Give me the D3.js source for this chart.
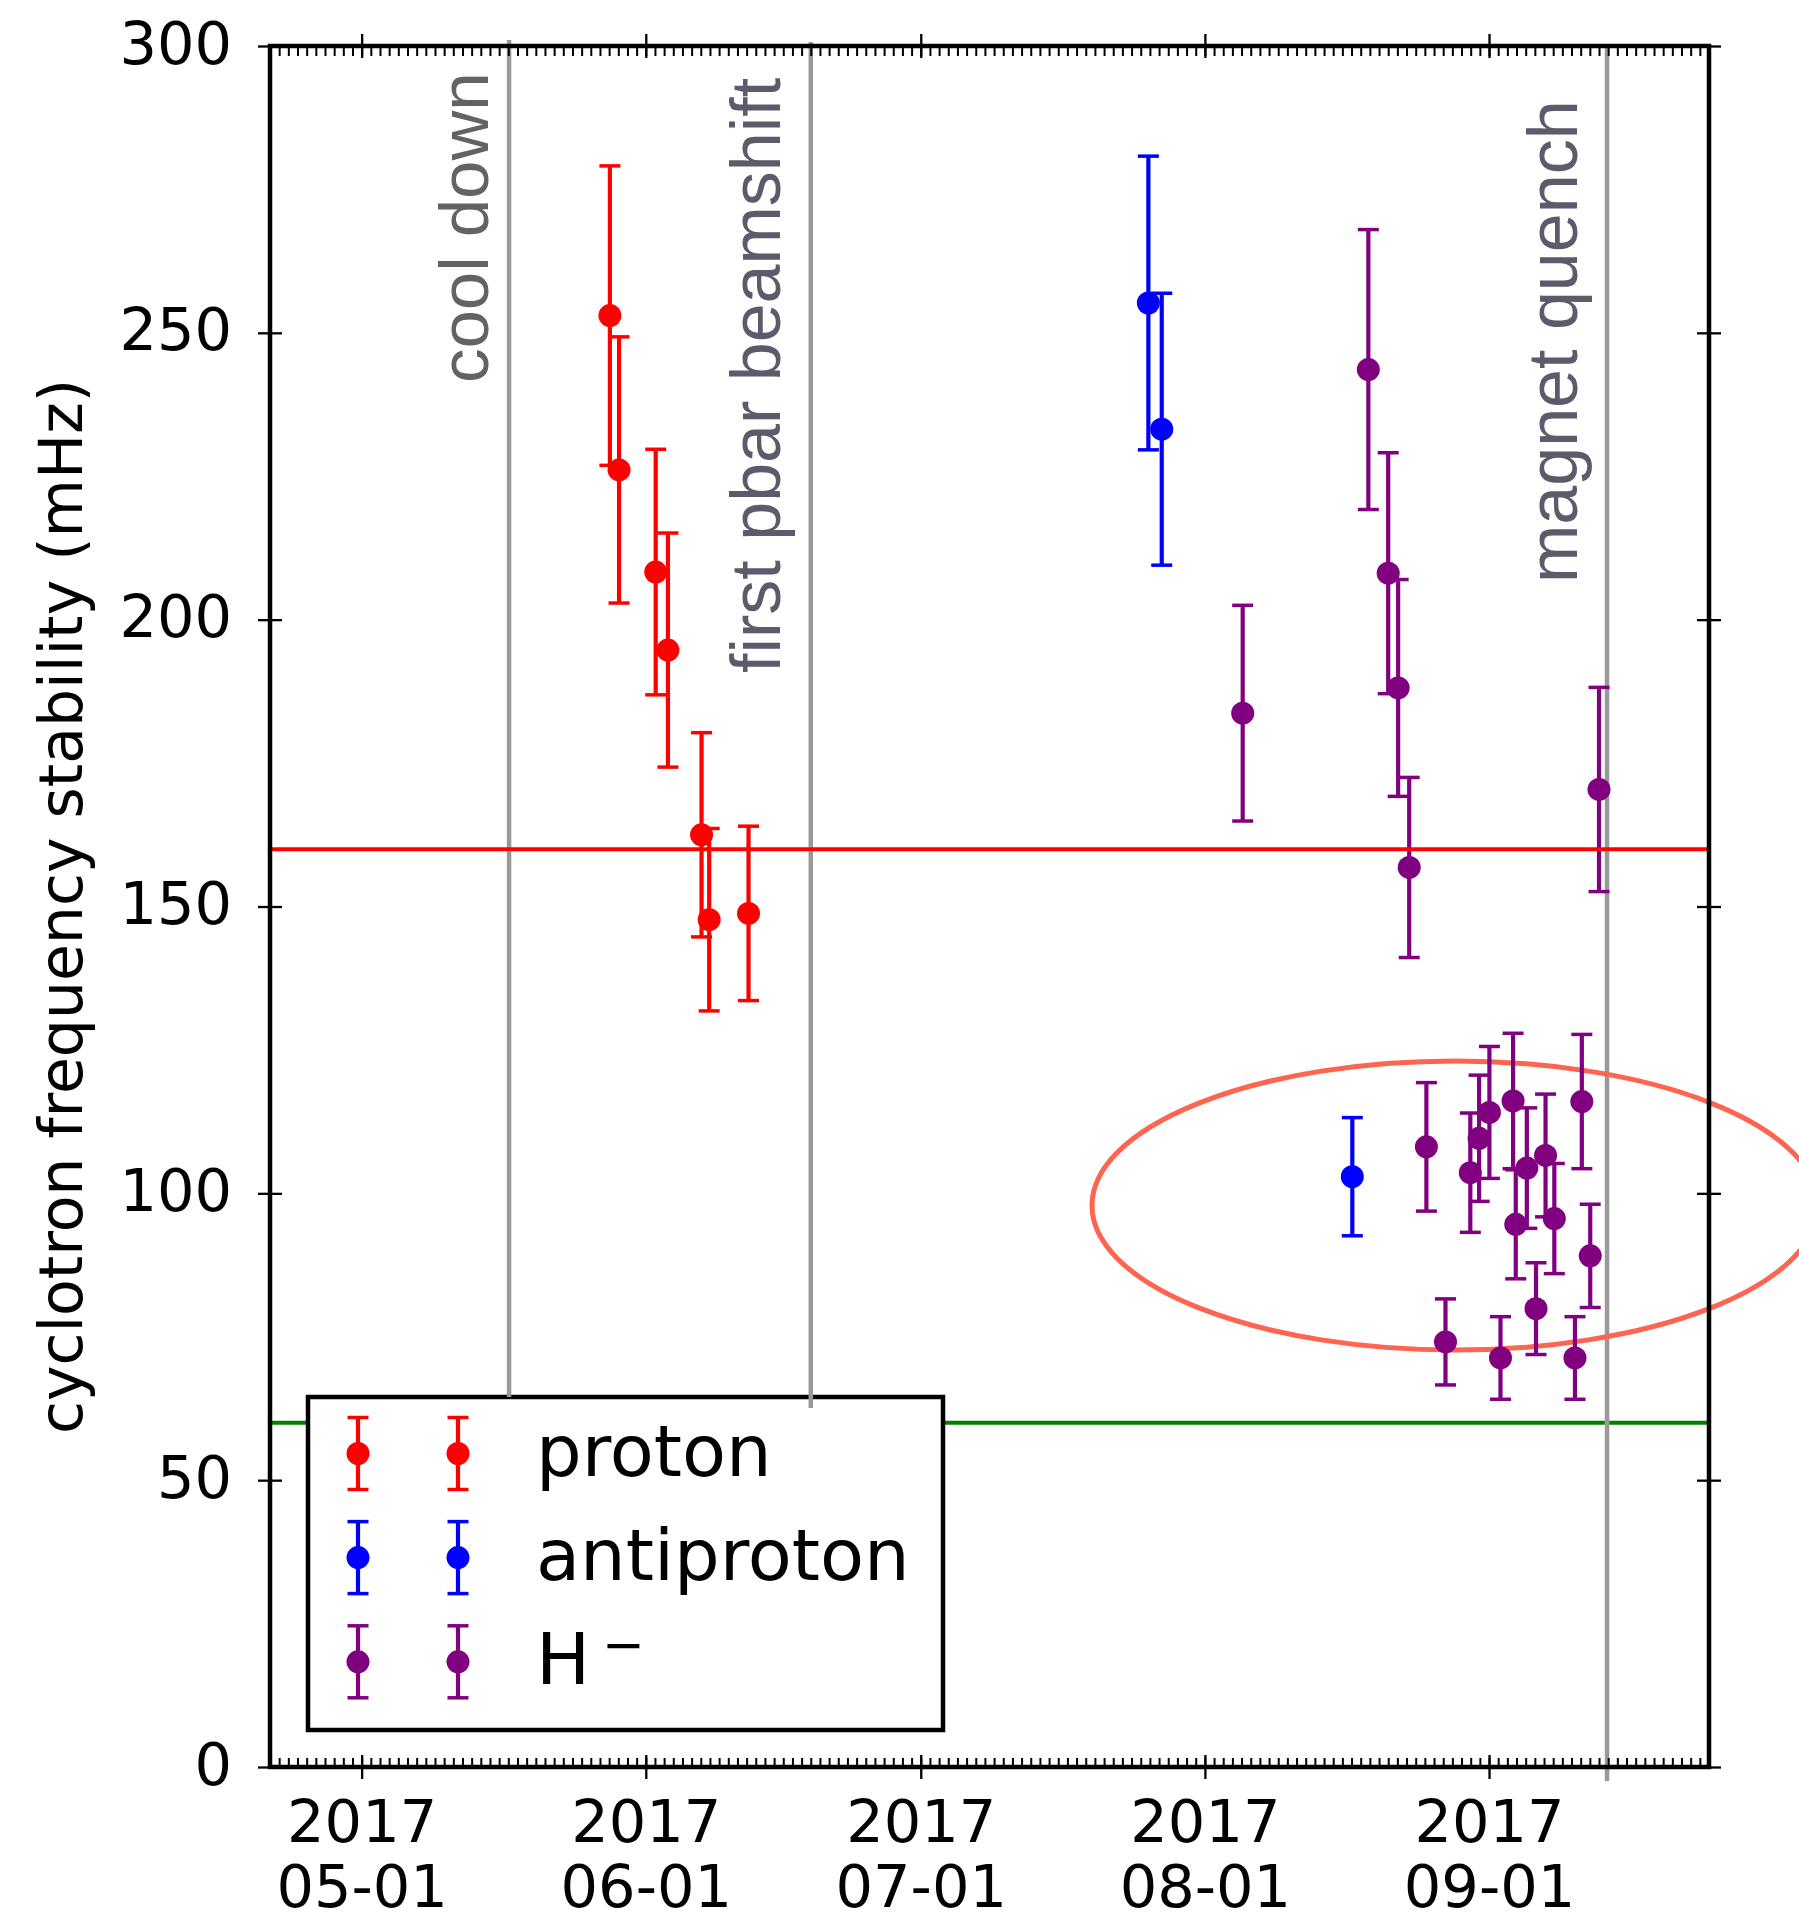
<!DOCTYPE html>
<html>
<head>
<meta charset="utf-8">
<script src="https://cdn.jsdelivr.net/npm/d3@7"></script>
<style>
  body { margin: 0; background: #ffffff; }
  svg { display: block; }
</style>
</head>
<body>
<svg id="chart" width="1799" height="1921"></svg>
<script>
// ---- measurement data (value ± error, in mHz) ----
const protonDates = ["2017-05-28T02:00", "2017-05-29T02:00", "2017-06-02T02:00", "2017-06-03T10:00",
                     "2017-06-07T02:00", "2017-06-07T22:00", "2017-06-12T05:00"];
const protonValues = [253.0, 226.1, 208.3, 194.7, 162.5, 147.7, 148.8];
const protonErrors = [26.1, 23.2, 21.4, 20.4, 17.8, 15.9, 15.2];

const antiprotonDates = ["2017-07-25T20:00", "2017-07-27T07:00", "2017-08-17T02:00"];
const antiprotonValues = [255.2, 233.2, 102.9];
const antiprotonErrors = [25.6, 23.7, 10.3];

const hminusDates = ["2017-08-05T03:00", "2017-08-18T20:00", "2017-08-21T00:00", "2017-08-22T02:00",
                     "2017-08-23T07:00", "2017-08-25T04:00", "2017-08-27T06:00", "2017-08-29T23:00",
                     "2017-08-30T22:00", "2017-09-01T01:00", "2017-09-02T06:00", "2017-09-03T15:00",
                     "2017-09-03T22:00", "2017-09-05T03:00", "2017-09-06T03:00", "2017-09-07T04:00",
                     "2017-09-08T03:00", "2017-09-10T09:00", "2017-09-11T03:00", "2017-09-12T01:00",
                     "2017-09-13T00:00"];
const hminusValues = [183.7, 243.6, 208.1, 188.1, 156.8, 108.1, 74.1, 103.6, 109.6, 114.1, 71.3,
                      116.1, 94.6, 104.4, 79.9, 106.6, 95.6, 71.3, 116.0, 89.1, 170.4];
const hminusErrors = [18.8, 24.4, 21.0, 18.9, 15.7, 11.2, 7.5, 10.4, 11.0, 11.5, 7.2,
                      11.8, 9.5, 10.5, 8.0, 10.7, 9.6, 7.2, 11.7, 9.0, 17.8];

// reference levels
const upperLevel = 160;
const lowerLevel = 60;

// events marked along the time axis
const eventNames = ["cool down", "first pbar beamshift", "magnet quench"];
const eventDates = ["2017-05-17T02:00", "2017-06-19T00:00", "2017-09-13T21:00"];

// axis settings
const dateDomain = ["2017-04-21T00:00", "2017-09-25T00:00"];
const yTicks = [0, 50, 100, 150, 200, 250, 300];
const yLabel = "cyclotron frequency stability (mHz)";

// ---- layout ----
const plot = { left: 270, right: 1709, top: 46, bottom: 1767 };
const fontMain = "'DejaVu Sans', sans-serif";
const fontNote = "'Liberation Sans', Arial, sans-serif";

const parse = d3.utcParse("%Y-%m-%dT%H:%M");
const x = d3.scaleUtc().domain(dateDomain.map(parse)).range([plot.left, plot.right]);
const y = d3.scaleLinear().domain([0, 300]).range([plot.bottom, plot.top]);

const svg = d3.select("#chart");
svg.append("rect").attr("width", 1799).attr("height", 1921).attr("fill", "#ffffff");

const series = [
  { name: "proton", color: "#ff0000", dates: protonDates, values: protonValues, errors: protonErrors },
  { name: "antiproton", color: "#0000ff", dates: antiprotonDates, values: antiprotonValues, errors: antiprotonErrors },
  { name: "H", color: "#800080", dates: hminusDates, values: hminusValues, errors: hminusErrors }
];

const barWidth = 4.2;
const capWidth = 3.5;
const capHalf = 10.5;
const markerR = 11.5;

// green reference level (sits underneath the legend)
svg.append("line")
  .attr("x1", plot.left).attr("x2", plot.right)
  .attr("y1", y(lowerLevel)).attr("y2", y(lowerLevel))
  .attr("stroke", "#008000").attr("stroke-width", 4);

// ---- legend ----
const legend = svg.append("g");
legend.append("rect")
  .attr("x", 308).attr("y", 1397).attr("width", 635).attr("height", 333)
  .attr("fill", "#ffffff").attr("stroke", "#000000").attr("stroke-width", 4.5);

const legendRows = [1453.5, 1557.6, 1661.8];
const legendMarkerX = [358, 458];
const legendHalf = 36;

function drawErrorGlyph(g, cx, cy, half, color) {
  g.append("line").attr("x1", cx).attr("x2", cx).attr("y1", cy - half).attr("y2", cy + half)
    .attr("stroke", color).attr("stroke-width", barWidth);
  [cy - half, cy + half].forEach(cy2 => {
    g.append("line").attr("x1", cx - capHalf).attr("x2", cx + capHalf).attr("y1", cy2).attr("y2", cy2)
      .attr("stroke", color).attr("stroke-width", capWidth);
  });
  g.append("circle").attr("cx", cx).attr("cy", cy).attr("r", markerR).attr("fill", color);
}

series.forEach((s, i) => {
  legendMarkerX.forEach(mx => drawErrorGlyph(legend, mx, legendRows[i], legendHalf, s.color));
  const t = legend.append("text")
    .attr("x", 536).attr("y", legendRows[i] + 22)
    .attr("font-family", fontMain).attr("font-size", 72).attr("fill", "#000000")
    .text(s.name);
  if (s.name === "H") {
    t.append("tspan").attr("font-size", 51).attr("dx", 12).attr("dy", -22).text("\u2212");
  }
});

// ---- event markers ----
const eventSpans = [[40, 1397], [42, 1408], [44, 1781]];
eventDates.forEach((d, i) => {
  const ex = x(parse(d));
  svg.append("line")
    .attr("x1", ex).attr("x2", ex).attr("y1", eventSpans[i][0]).attr("y2", eventSpans[i][1])
    .attr("stroke", "#999999").attr("stroke-width", 4.5);
});

// highlight around the late-August / September H- cluster
svg.append("ellipse")
  .attr("cx", 1455).attr("cy", 1205.5).attr("rx", 363).attr("ry", 144.5)
  .attr("fill", "none").attr("stroke", "#ff6450").attr("stroke-width", 5);

// ---- error bars ----
series.forEach(s => {
  const pts = s.dates.map((d, i) => ({ t: parse(d), v: s.values[i], e: s.errors[i] }));
  const g = svg.append("g");
  g.selectAll("line.bar").data(pts).join("line").attr("class", "bar")
    .attr("x1", d => x(d.t)).attr("x2", d => x(d.t))
    .attr("y1", d => y(d.v + d.e)).attr("y2", d => y(d.v - d.e))
    .attr("stroke", s.color).attr("stroke-width", barWidth);
  g.selectAll("line.capTop").data(pts).join("line").attr("class", "capTop")
    .attr("x1", d => x(d.t) - capHalf).attr("x2", d => x(d.t) + capHalf)
    .attr("y1", d => y(d.v + d.e)).attr("y2", d => y(d.v + d.e))
    .attr("stroke", s.color).attr("stroke-width", capWidth);
  g.selectAll("line.capBottom").data(pts).join("line").attr("class", "capBottom")
    .attr("x1", d => x(d.t) - capHalf).attr("x2", d => x(d.t) + capHalf)
    .attr("y1", d => y(d.v - d.e)).attr("y2", d => y(d.v - d.e))
    .attr("stroke", s.color).attr("stroke-width", capWidth);
  g.selectAll("circle").data(pts).join("circle")
    .attr("cx", d => x(d.t)).attr("cy", d => y(d.v)).attr("r", markerR)
    .attr("fill", s.color);
});

// red reference level
svg.append("line")
  .attr("x1", plot.left).attr("x2", plot.right)
  .attr("y1", y(upperLevel)).attr("y2", y(upperLevel))
  .attr("stroke", "#ff0000").attr("stroke-width", 4);

// ---- axes ----
function styleTicks(g, width) {
  g.select(".domain").remove();
  g.selectAll(".tick line").attr("stroke", "#000000").attr("stroke-width", width);
}

// daily minor ticks, pointing inward
svg.append("g").attr("transform", `translate(0,${plot.bottom})`)
  .call(d3.axisBottom(x).ticks(d3.utcDay.every(1)).tickSize(-9).tickFormat(""))
  .call(g => styleTicks(g, 2));
svg.append("g").attr("transform", `translate(0,${plot.top})`)
  .call(d3.axisTop(x).ticks(d3.utcDay.every(1)).tickSize(-10).tickFormat(""))
  .call(g => styleTicks(g, 2));

// monthly major ticks, crossing the spine
const fmtYear = d3.utcFormat("%Y");
const fmtDay = d3.utcFormat("%m-%d");
const xBottom = svg.append("g").attr("transform", `translate(0,${plot.bottom})`)
  .call(d3.axisBottom(x).ticks(d3.utcMonth.every(1)).tickSize(12).tickFormat(""))
  .call(g => styleTicks(g, 2.3));
xBottom.selectAll(".tick line").attr("y1", -12).attr("y2", 12);
xBottom.selectAll(".tick text").remove();
xBottom.selectAll(".tick").each(function (d) {
  const t = d3.select(this).append("text")
    .attr("text-anchor", "middle").attr("fill", "#000000")
    .attr("font-family", fontMain).attr("font-size", 59);
  t.append("tspan").attr("x", 0).attr("y", 75).text(fmtYear(d));
  t.append("tspan").attr("x", 0).attr("y", 140).text(fmtDay(d));
});

const xTop = svg.append("g").attr("transform", `translate(0,${plot.top})`)
  .call(d3.axisTop(x).ticks(d3.utcMonth.every(1)).tickSize(12).tickFormat(""))
  .call(g => styleTicks(g, 2.3));
xTop.selectAll(".tick line").attr("y1", -12).attr("y2", 12);

const yLeft = svg.append("g").attr("transform", `translate(${plot.left},0)`)
  .call(d3.axisLeft(y).tickValues(yTicks).tickSize(12).tickFormat(d3.format("d")))
  .call(g => styleTicks(g, 2.3));
yLeft.selectAll(".tick line").attr("x1", -12).attr("x2", 12);
yLeft.selectAll(".tick text")
  .attr("x", -38).attr("y", 17).attr("dy", null)
  .attr("text-anchor", "end").attr("fill", "#000000")
  .attr("font-family", fontMain).attr("font-size", 59);

const yRight = svg.append("g").attr("transform", `translate(${plot.right},0)`)
  .call(d3.axisRight(y).tickValues(yTicks).tickSize(12).tickFormat(""))
  .call(g => styleTicks(g, 2.3));
yRight.selectAll(".tick line").attr("x1", -12).attr("x2", 12);

// frame
svg.append("rect")
  .attr("x", plot.left).attr("y", plot.top)
  .attr("width", plot.right - plot.left).attr("height", plot.bottom - plot.top)
  .attr("fill", "none").attr("stroke", "#000000").attr("stroke-width", 4.5);

// y axis title
svg.append("text")
  .attr("transform", `translate(82,${(plot.top + plot.bottom) / 2}) rotate(-90)`)
  .attr("text-anchor", "middle").attr("fill", "#000000")
  .attr("font-family", fontMain).attr("font-size", 60)
  .text(yLabel);

// ---- event labels ----
const eventLabelPos = [
  { bx: 488, sy: 383, size: 69, color: "#636363" },
  { bx: 780, sy: 673, size: 70, color: "#5b5b6b" },
  { bx: 1577, sy: 583, size: 70, color: "#5b5b6b" }
];
eventNames.forEach((name, i) => {
  const p = eventLabelPos[i];
  svg.append("text")
    .attr("transform", `translate(${p.bx},${p.sy}) rotate(-90)`)
    .attr("font-family", fontNote).attr("font-size", p.size).attr("fill", p.color)
    .text(name);
});
</script>
</body>
</html>
